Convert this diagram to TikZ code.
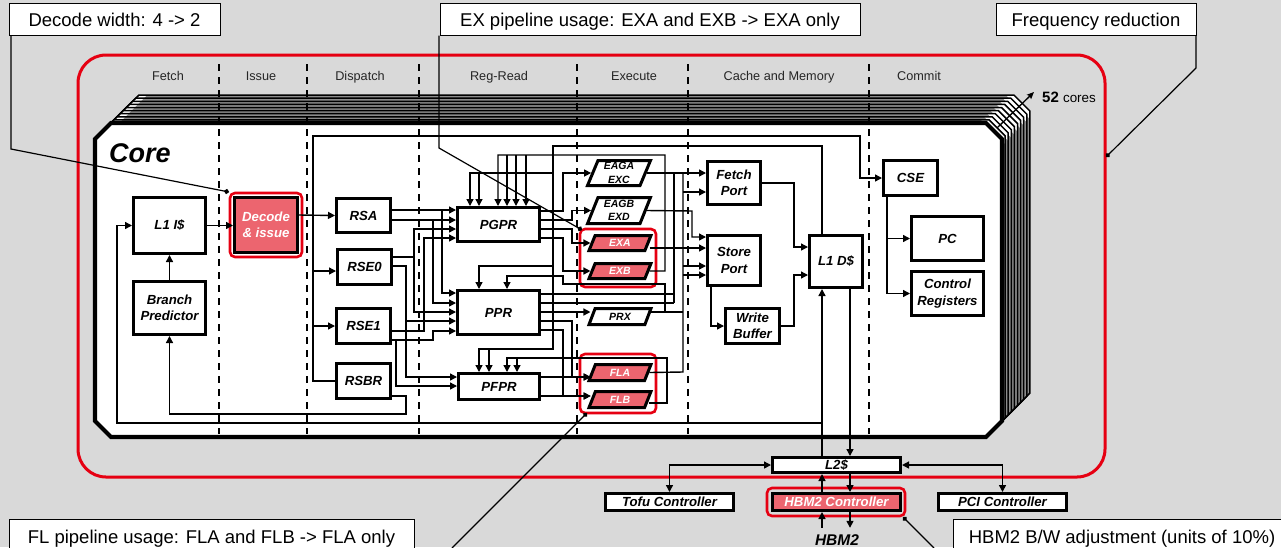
\documentclass[tikz,border=0pt]{standalone}
\usepackage{fontspec}
\setmainfont{Liberation Sans}
\usetikzlibrary{arrows.meta, shapes.geometric, backgrounds}
\definecolor{slidegray}{HTML}{D9D9D9}
\definecolor{framered}{HTML}{E60012}
\definecolor{unitpink}{HTML}{EC656F}
\newcommand{\unitfont}{\fontsize{13.2pt}{16.5pt}\selectfont\bfseries\itshape}
\newcommand{\smallunitfont}{\fontsize{10.5pt}{13.3pt}\selectfont\bfseries\itshape}
\tikzset{
  unit/.style={draw, line width=3pt, fill=white, inner sep=0pt, align=center, font=\unitfont},
  hotunit/.style={unit, fill=unitpink, text=white},
  pipe/.style={draw, line width=3pt, fill=white, inner sep=0pt, align=center, font=\smallunitfont,
    trapezium, trapezium left angle=70, trapezium right angle=110, trapezium stretches=true},
  hotpipe/.style={pipe, fill=unitpink, text=white},
  note/.style={draw, line width=1pt, fill=white, inner sep=0pt, text height=16pt, text depth=2pt,
    font=\fontsize{18.5pt}{20pt}\selectfont},
  wire/.style={line width=1.4pt},
  link/.style={wire, -{Stealth[length=7pt,width=7pt,inset=0pt]}},
  bilink/.style={wire, {Stealth[length=7pt,width=7pt,inset=0pt]}-{Stealth[length=7pt,width=7pt,inset=0pt]}},
  leader/.style={line width=1.2pt, -{Circle[length=5pt]}},
  hilite/.style={draw=framered, line width=2.6pt, rounded corners=5pt},
  phaseline/.style={line width=1.5pt, dash pattern=on 7pt off 6pt},
  corelayer/.style={draw=black, line width=1.5pt},
  corefront/.style={draw=black, line width=4.2pt, fill=white},
}
\begin{document}
\begin{tikzpicture}[x=1pt, y=-1pt]
  \useasboundingbox (0,0) rectangle (1281,547);
  % front end
  \node[unit, minimum width=72pt, minimum height=56pt] (l1i) at (169.5,225.5) {L1 I\$};
  \node[unit, minimum width=72pt, minimum height=53pt] (bpred) at (169.5,308) {Branch\\Predictor};
  \node[hotunit, minimum width=63pt, minimum height=55pt] (dec) at (266,225) {Decode\\\& issue};
  \node[unit, minimum width=54pt, minimum height=34pt] (rsa) at (363.5,215.5) {RSA};
  \node[unit, minimum width=54pt, minimum height=35pt] (rse0) at (364.5,267) {RSE0};
  \node[unit, minimum width=54pt, minimum height=35pt] (rse1) at (363.5,326) {RSE1};
  \node[unit, minimum width=54pt, minimum height=35pt] (rsbr) at (363.5,381) {RSBR};
  % register files
  \node[unit, minimum width=82pt, minimum height=34pt] (pgpr) at (498.5,224.5) {PGPR};
  \node[unit, minimum width=82pt, minimum height=44pt] (ppr) at (498.5,312.5) {PPR};
  \node[unit, minimum width=81pt, minimum height=26pt] (pfpr) at (499,386.5) {PFPR};
  % execution units
  \node[pipe, minimum width=63pt, minimum height=25pt] (eaga) at (619,173) {EAGA\\EXC};
  \node[pipe, minimum width=63pt, minimum height=26pt] (eagb) at (619,210.5) {EAGB\\EXD};
  \node[hotpipe, minimum width=62pt, minimum height=15pt] (exa) at (620,243) {EXA};
  \node[hotpipe, minimum width=62pt, minimum height=15pt] (exb) at (620,271) {EXB};
  \node[pipe, minimum width=62pt, minimum height=16pt] (prx) at (620,316.5) {PRX};
  \node[hotpipe, minimum width=62pt, minimum height=16pt] (fla) at (620,372.5) {FLA};
  \node[hotpipe, minimum width=62pt, minimum height=16pt] (flb) at (620,399.5) {FLB};
  % memory and commit
  \node[unit, minimum width=53pt, minimum height=43pt] (fetch) at (734,183) {Fetch\\Port};
  \node[unit, minimum width=53pt, minimum height=50pt] (store) at (734,260.5) {Store\\Port};
  \node[unit, minimum width=54pt, minimum height=35pt] (wbuf) at (752.5,326) {Write\\Buffer};
  \node[unit, minimum width=53pt, minimum height=52pt] (l1d) at (836,261.5) {L1 D\$};
  \node[unit, minimum width=54pt, minimum height=35pt] (cse) at (910.5,178) {CSE};
  \node[unit, minimum width=72pt, minimum height=44pt] (pc) at (947.5,238.5) {PC};
  \node[unit, minimum width=72pt, minimum height=44pt] (ctrl) at (947.5,293.5) {Control\\Registers};
  % uncore
  \node[unit, minimum width=128pt, minimum height=15pt] (l2) at (836.5,465) {L2\$};
  \node[unit, minimum width=128pt, minimum height=17pt] (tofu) at (669.5,502) {Tofu Controller};
  \node[hotunit, minimum width=128pt, minimum height=17pt] (hbmc) at (836.5,502) {HBM2 Controller};
  \node[unit, minimum width=128pt, minimum height=17pt] (pci) at (1002.5,502) {PCI Controller};
  \node[font=\fontsize{15.5pt}{16pt}\selectfont\bfseries\itshape, inner sep=0pt, minimum height=24pt] (hbm) at (837,540) {HBM2};
  \node[font=\fontsize{27pt}{28pt}\selectfont\bfseries\itshape, inner sep=0pt] (corelabel) at (140,153) {Core};
  \node[inner sep=0pt] (corecount) at (1069,97) {\fontsize{15pt}{16pt}\selectfont\textbf{52} \fontsize{13.4pt}{16pt}\selectfont cores};
  % notes
  \node[note, minimum width=211pt, minimum height=32pt] (decnote) at (114.5,19) {Decode width: 4 -> 2};
  \node[note, minimum width=420pt, minimum height=32pt] (exnote) at (650,19) {EX pipeline usage: EXA and EXB -> EXA only};
  \node[note, minimum width=200pt, minimum height=32pt] (freqnote) at (1096,19) {Frequency reduction};
  \node[note, minimum width=405pt, minimum height=35pt] (flnote) at (211.5,536.5) {FL pipeline usage: FLA and FLB -> FLA only};
  \node[note, minimum width=338pt, minimum height=35pt] (bwnote) at (1122,536.5) {HBM2 B/W adjustment (units of 10\%)};
  \coordinate (issuebus) at (313,215);
  \coordinate (stackfront) at (997,128);
  \coordinate (stackback) at (1034,92);
  \coordinate (flnoteend) at (452,548);
  \coordinate (bwnoteend) at (934,548);

  \begin{scope}[on background layer]
    \fill[slidegray] (0,0) rectangle (1281,547);
    \draw[framered, line width=3pt, rounded corners=28pt] (78,55) rectangle (1105,477);
    \foreach \i in {9,...,1} {
      \begin{scope}[shift={(3.1*\i,-3.1*\i)}]
        \fill[black!45] (95,139) -- (111,123) -- (986,123) -- (1002,139)
          -- (1002,421) -- (986,437) -- (111,437) -- (95,421) -- cycle;
        \fill[white] (978,123) -- (986,123) -- (1002,139) -- (1002,147) -- cycle;
        \fill[white] (111,123) -- (119,123) -- (103,139) -- (95,139) -- cycle;
        \draw[corelayer] (95,139) -- (111,123) -- (986,123) -- (1002,139)
          -- (1002,421) -- (986,437) -- (111,437) -- (95,421) -- cycle;
      \end{scope}
    }
    \draw[corefront] (95,139) -- (111,123) -- (986,123) -- (1002,139)
      -- (1002,421) -- (986,437) -- (111,437) -- (95,421) -- cycle;
    \foreach \x in {219,307,419,577,688,869}
      \draw[phaseline] (\x,64) -- (\x,434);
    \draw[hilite] (230,193) rectangle (302,257);
    \draw[hilite] (580,229) rectangle (656,287);
    \draw[hilite] (580,354) rectangle (656,413);
    \draw[hilite] (767,488) rectangle (905,516);
    % issue
    \draw[link] (l1i.east) -- (dec.west |- l1i.east);
    \draw[link] (bpred.north) -- (l1i.south);
    \draw[link] (dec.east |- issuebus) -- (rsa.west);
    \draw[link] (issuebus) -- (313,136) -- (860,136) |- (cse.west);
    \draw[link] (issuebus) |- (rse0.west |- 0,271);
    \draw[link] (issuebus) |- (rse1.west);
    \draw[wire] (issuebus) |- (rsbr.west);
    \draw[link] (rsbr.east |- 0,396) -- (406,396) -- (406,414) -| (bpred.south);
    % dispatch to register files
    \draw[link] (rsa.east |- 0,210) -- (pgpr.west |- 0,210);
    \draw[link] (rsa.east |- 0,220) -- (pgpr.west |- 0,220);
    \draw[link] (442,210) |- (ppr.west |- 0,293);
    \draw[link] (433,220) |- (ppr.west |- 0,303);
    \draw[wire] (rse0.east |- 0,257) -- (414,257);
    \draw[link] (414,312) |- (pgpr.west |- 0,229);
    \draw[link] (414,257) |- (ppr.west |- 0,312);
    \draw[link] (rse0.east |- 0,266) -- (406,266) |- (pfpr.west |- 0,377);
    \draw[link] (406,321) -- (ppr.west |- 0,321);
    \draw[link] (rse1.east |- 0,331) -- (424,331) |- (pgpr.west |- 0,238);
    \draw[link] (rse1.east |- 0,340) -- (433,340) |- (ppr.west |- 0,331);
    \draw[link] (396,340) |- (pfpr.west |- 0,386);
    % register files to execution units
    \draw[link] (pgpr.east |- 0,211) -- (563,211) |- (eaga.west);
    \draw[link] (pgpr.east |- 0,220) -- (572,220) |- (eagb.west);
    \draw[link] (pgpr.east |- 0,229) -- (572,229) |- (exa.west);
    \draw[link] (pgpr.east |- 0,238) -- (563,238) |- (exb.west);
    \draw[link] (ppr.east |- 0,312) -- (prx.west |- 0,312);
    \draw[link] (ppr.east |- 0,321) -- (572,321) |- (fla.west |- 0,377);
    \draw[link] (ppr.east |- 0,330) -- (563,330) |- (flb.west |- 0,396);
    \draw[link] (pfpr.east |- 0,377) -- (fla.west |- 0,377);
    \draw[link] (pfpr.east |- 0,396) -- (flb.west |- 0,396);
    \draw[wire] (ppr.east |- 0,294) -- (674,294);
    \draw[wire] (ppr.east |- 0,303) -- (674,303);
    % bypass buses
    \draw[link] (exb.east) -- (665,271) -- (665,155) -| (498,0 |- pgpr.north);
    \foreach \x in {507,516,526}
      \draw[link] (\x,155) -- (\x,0 |- pgpr.north);
    \draw[link] (l1d.north -| 822,0) -- (822,146) -- (553,146) -- (553,349) -| (479,0 |- pfpr.north);
    \draw[link] (489,349) -- (489,0 |- pfpr.north);
    \draw[link] (553,173) -| (470,0 |- pgpr.north);
    \draw[link] (479,173) -- (479,0 |- pgpr.north);
    \draw[link] (553,266) -| (479,0 |- ppr.north);
    \draw[link] (prx.east |- 0,312) -- (665,312) -- (665,284) -- (563,284) -- (563,276) -| (507,0 |- ppr.north);
    \draw[link] (flb.east |- 0,403) -- (667,403) -- (667,358) -| (507,0 |- pfpr.north);
    \draw[link] (517,358) -- (517,0 |- pfpr.north);
    % execution units to ports
    \draw[link] (eaga.east) -- (fetch.west |- eaga.east);
    \draw[wire] (674,174) -- (674,303);
    \draw[wire] (fla.east) -- (683,372) -- (683,174);
    \draw[wire] (prx.east |- 0,312) -- (683,312);
    \draw[link] (683,192) -- (fetch.west |- 0,192);
    \draw[link] (683,266) -- (store.west |- 0,266);
    \draw[link] (683,275) -- (store.west |- 0,275);
    \draw[link] (eagb.east) -- (692,211) |- (store.west |- 0,237);
    \draw[link] (exa.east |- 0,248) -- (store.west |- 0,248);
    % memory
    \draw[link] (fetch.east) -- (794,183) |- (l1d.west |- 0,247);
    \draw[link] (wbuf.east) -- (794,326) |- (l1d.west |- 0,275);
    \draw[link] (711,0 |- store.south) |- (wbuf.west);
    \draw[link] (887,0 |- cse.south) |- (pc.west);
    \draw[link] (887,238) |- (ctrl.west);
    \draw[link] (822,0 |- l2.north) -- (822,0 |- l1d.south);
    \draw[link] (822,423) -- (117,423) |- (l1i.west);
    \draw[link] (850,0 |- l1d.south) -- (850,0 |- l2.north);
    % uncore
    \draw[bilink] (l2.west) -| (tofu.north);
    \draw[bilink] (l2.east) -| (pci.north);
    \draw[link] (822,0 |- hbmc.north) -- (822,0 |- l2.south);
    \draw[link] (850,0 |- l2.south) -- (850,0 |- hbmc.north);
    \draw[link] (822,0 |- hbm.north) -- (822,0 |- hbmc.south);
    \draw[link] (850,0 |- hbmc.south) -- (850,0 |- hbm.north);
  \end{scope}

  % phases
  \foreach \x/\t [count=\i] in {168/Fetch,261/Issue,360/Dispatch,499/Reg-Read,634/Execute,779/Cache and Memory,919/Commit}
    \node[font=\fontsize{12.7pt}{14pt}\selectfont, text=black!85, inner sep=0pt, text height=9pt, text depth=0pt] (phase\i) at (\x,76) {\t};
  \draw[line width=1.3pt, -{Stealth[length=7pt,width=6pt,inset=1pt]}] (stackfront) -- (stackback);
  % leaders
  \draw[leader] (11,0 |- decnote.south) -- (11,149) -- (229,192);
  \draw[leader] (439,0 |- exnote.south) -- (439,148) -- (582,230);
  \draw[leader] (1196,0 |- freqnote.south) -- (1196,68) -- (1106,157);
  \draw[leader] (flnoteend) -- (587,413);
  \draw[leader] (bwnoteend) -- (903,517);
\end{tikzpicture}
\end{document}
